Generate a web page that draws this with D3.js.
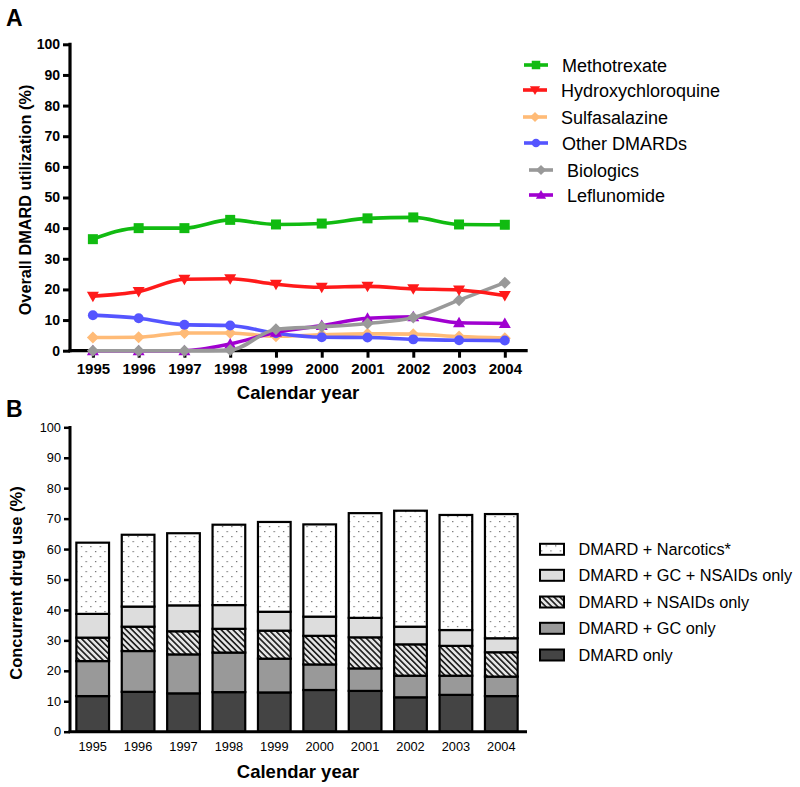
<!DOCTYPE html>
<html><head><meta charset="utf-8">
<script src="https://cdn.jsdelivr.net/npm/d3@7"></script>
<style>
body{margin:0;background:#fff;}
svg{display:block;font-family:Arial,'Liberation Sans',sans-serif;}
</style></head>
<body><svg id="c" width="800" height="787"></svg>
<script>
// ---------- Data ----------
const years = [1995,1996,1997,1998,1999,2000,2001,2002,2003,2004];
const yTicks = [0,10,20,30,40,50,60,70,80,90,100];

const lineSeriesNames = ["Methotrexate","Hydroxychloroquine","Sulfasalazine","Other DMARDs","Biologics","Leflunomide"];
const methotrexate       = [36.4,40.0,40.0,42.7,41.2,41.5,43.2,43.5,41.2,41.1];
const hydroxychloroquine = [17.8,19.3,23.3,23.5,21.7,20.7,21.0,20.2,19.8,18.0];
const sulfasalazine      = [4.3,4.4,5.8,5.8,4.7,5.2,5.5,5.4,4.6,4.1];
const otherDMARDs        = [11.6,10.6,8.5,8.2,5.7,4.4,4.3,3.7,3.4,3.3];
const biologics          = [0,0,0,0.2,7.0,7.8,8.9,10.8,16.5,22.2];
const leflunomide        = [0,0,0,2.2,6.0,8.2,10.6,11.1,9.1,8.9];

const barSeriesNames = ["DMARD only","DMARD + GC only","DMARD + NSAIDs only","DMARD + GC + NSAIDs only","DMARD + Narcotics*"];
const dmardOnly      = [11.7,13.1,12.6,13.0,12.9,13.7,13.4,11.3,12.1,11.7];
const dmardGC        = [11.5,13.4,12.8,13.0,11.1,8.4,7.4,7.1,6.3,6.4];
const dmardNSAIDs    = [7.7,8.0,7.6,7.8,9.2,9.4,10.2,10.3,9.8,8.0];
const dmardGCNSAIDs  = [7.8,6.6,8.5,7.8,6.2,6.3,6.4,5.8,5.2,4.6];
const dmardNarcotics = [23.4,23.6,23.7,26.4,29.5,30.3,34.4,38.1,37.8,40.8];

// ---------- Setup ----------
const FONT = "Arial,'Liberation Sans',sans-serif";
const svg = d3.select("#c");
const defs = svg.append("defs");
const dots = defs.append("pattern").attr("id","dots").attr("patternUnits","userSpaceOnUse")
  .attr("width",9.4).attr("height",10);
dots.append("rect").attr("width",9.4).attr("height",10).attr("fill","#fff");
dots.append("rect").attr("x",1).attr("y",1).attr("width",1.2).attr("height",1.2).attr("fill","#666");
dots.append("rect").attr("x",5.7).attr("y",6).attr("width",1.2).attr("height",1.2).attr("fill","#666");
const hatch = defs.append("pattern").attr("id","hatch").attr("patternUnits","userSpaceOnUse")
  .attr("width",4.2).attr("height",4.2).attr("patternTransform","rotate(-45)");
hatch.append("rect").attr("width",4.2).attr("height",4.2).attr("fill","#e6e6e6");
hatch.append("rect").attr("x",0).attr("y",0).attr("width",1.7).attr("height",4.2).attr("fill","#222");

// ---------- Panel A ----------
const xA = d3.scalePoint().domain(years).range([70,527.7]).padding(0.5);
const yA = d3.scaleLinear().domain([0,100]).range([350.7,44.3]);

svg.append("text").attr("x",6).attr("y",26).attr("font-size",23).attr("font-weight","bold").text("A");

const axA = svg.append("g").attr("transform","translate(70,0)")
  .call(d3.axisLeft(yA).tickValues(yTicks).tickSize(7).tickPadding(3));
axA.select(".domain").remove();
axA.selectAll(".tick line").attr("stroke","#000").attr("stroke-width",3);
axA.selectAll(".tick text").attr("font-size",14).attr("font-weight","bold").attr("fill","#000").attr("font-family",FONT);
svg.append("line").attr("x1",70).attr("x2",70).attr("y1",42.8).attr("y2",352.2).attr("stroke","#000").attr("stroke-width",3.2);

const axAx = svg.append("g").attr("transform","translate(0,350.7)")
  .call(d3.axisBottom(xA).tickSize(7).tickPadding(6).tickFormat(d3.format("d")));
axAx.select(".domain").remove();
axAx.selectAll(".tick line").attr("stroke","#000").attr("stroke-width",3);
axAx.selectAll(".tick text").attr("font-size",15).attr("font-weight","bold").attr("fill","#000").attr("font-family",FONT);
svg.append("line").attr("x1",68.5).attr("x2",527.7).attr("y1",350.7).attr("y2",350.7).attr("stroke","#000").attr("stroke-width",3.2);

svg.append("text").attr("x",298).attr("y",399).attr("text-anchor","middle").attr("font-size",18.5).attr("font-weight","bold").text("Calendar year");
svg.append("text").attr("transform","translate(31,200) rotate(-90)").attr("text-anchor","middle")
  .attr("font-size",16.3).attr("font-weight","bold").text("Overall DMARD utilization (%)");

const lineDefs = [
  {name:lineSeriesNames[2], vals:sulfasalazine, color:"#ffbb77", sym:"diamond"},
  {name:lineSeriesNames[3], vals:otherDMARDs, color:"#5555ff", sym:"circle"},
  {name:lineSeriesNames[5], vals:leflunomide, color:"#a000d0", sym:"triUp"},
  {name:lineSeriesNames[4], vals:biologics, color:"#999999", sym:"diamond"},
  {name:lineSeriesNames[1], vals:hydroxychloroquine, color:"#ff1a1a", sym:"triDown"},
  {name:lineSeriesNames[0], vals:methotrexate, color:"#11bb11", sym:"square"}
];
function symPath(sym){
  switch(sym){
    case "square": return "M-5,-5h10v10h-10z";
    case "circle": return d3.symbol(d3.symbolCircle,78)();
    case "diamond": return "M0,-6L6,0L0,6L-6,0Z";
    case "triUp": return "M0,-6L6,4.5L-6,4.5Z";
    case "triDown": return "M0,6L6,-4.5L-6,-4.5Z";
  }
}
const lineGen = d3.line().x((d,i)=>xA(years[i])).y(d=>yA(d)).curve(d3.curveMonotoneX);
lineDefs.forEach(s=>{
  svg.append("path").attr("d",lineGen(s.vals)).attr("fill","none").attr("stroke",s.color).attr("stroke-width",3.6);
  svg.append("g").selectAll("path").data(s.vals).join("path")
    .attr("transform",(d,i)=>`translate(${xA(years[i])},${yA(d)})`)
    .attr("d",symPath(s.sym)).attr("fill",s.color);
});

// Legend A
const legOrder = [5,4,0,1,3,2];
const legY = [65,90,117,143,170,195];
const legNudge = [0,-1,-1,0,5,5];
legOrder.forEach((idx,r)=>{
  const s = lineDefs[idx];
  const g = svg.append("g").attr("transform",`translate(${524+legNudge[r]},${legY[r]})`);
  g.append("line").attr("x1",0).attr("x2",24).attr("stroke",s.color).attr("stroke-width",3.6);
  g.append("path").attr("transform","translate(12,0) scale(0.85)").attr("d",symPath(s.sym)).attr("fill",s.color);
  g.append("text").attr("x",38).attr("y",6.5).attr("font-size",18).attr("fill","#000").text(s.name);
});

// ---------- Panel B ----------
const xB = d3.scaleBand().domain(years).range([70,524]).paddingInner(0.28).paddingOuter(0.14);
const yB = d3.scaleLinear().domain([0,100]).range([731.7,427.3]);

svg.append("text").attr("x",6).attr("y",417).attr("font-size",23).attr("font-weight","bold").text("B");

const barSeries = [dmardOnly,dmardGC,dmardNSAIDs,dmardGCNSAIDs,dmardNarcotics];
const barFills = ["#444444","#999999","url(#hatch)","#dddddd","url(#dots)"];
const table = years.map((y,i)=>{const o={year:y}; barSeriesNames.forEach((n,k)=>o[n]=barSeries[k][i]); return o;});
const stacked = d3.stack().keys(barSeriesNames)(table);

stacked.forEach((layer,k)=>{
  svg.append("g").selectAll("rect").data(layer).join("rect")
    .attr("x",d=>xB(d.data.year)).attr("width",xB.bandwidth())
    .attr("y",d=>yB(d[1])).attr("height",d=>yB(d[0])-yB(d[1]))
    .attr("fill",barFills[k]).attr("stroke","#000").attr("stroke-width",2.2);
});

const axB = svg.append("g").attr("transform","translate(70,0)")
  .call(d3.axisLeft(yB).tickValues(yTicks).tickSize(6).tickPadding(3));
axB.select(".domain").remove();
axB.selectAll(".tick line").attr("stroke","#000").attr("stroke-width",2.5);
axB.selectAll(".tick text").attr("font-size",12.8).attr("fill","#000").attr("font-family",FONT);
svg.append("line").attr("x1",70).attr("x2",70).attr("y1",426).attr("y2",733).attr("stroke","#000").attr("stroke-width",3);

const axBx = svg.append("g").attr("transform","translate(0,731.7)")
  .call(d3.axisBottom(xB).tickSize(0).tickPadding(10).tickFormat(d3.format("d")));
axBx.select(".domain").remove();
axBx.selectAll(".tick text").attr("font-size",12.8).attr("fill","#000").attr("font-family",FONT);
svg.append("line").attr("x1",68.5).attr("x2",527).attr("y1",731.7).attr("y2",731.7).attr("stroke","#000").attr("stroke-width",3);

svg.append("text").attr("x",298).attr("y",778).attr("text-anchor","middle").attr("font-size",18.5).attr("font-weight","bold").text("Calendar year");
svg.append("text").attr("transform","translate(22,583) rotate(-90)").attr("text-anchor","middle")
  .attr("font-size",16.5).attr("font-weight","bold").text("Concurrent drug use (%)");

// Legend B
const legBY = [549.3,575.3,602,628.3,655];
[4,3,2,1,0].forEach((k,r)=>{
  const g = svg.append("g").attr("transform",`translate(540,${legBY[r]})`);
  g.append("rect").attr("x",0).attr("y",-5.5).attr("width",24).attr("height",11)
    .attr("fill",barFills[k]).attr("stroke","#000").attr("stroke-width",2);
  g.append("text").attr("x",38.5).attr("y",5.8).attr("font-size",16.3).attr("fill","#000").text(barSeriesNames[k]);
});
</script></body></html>
